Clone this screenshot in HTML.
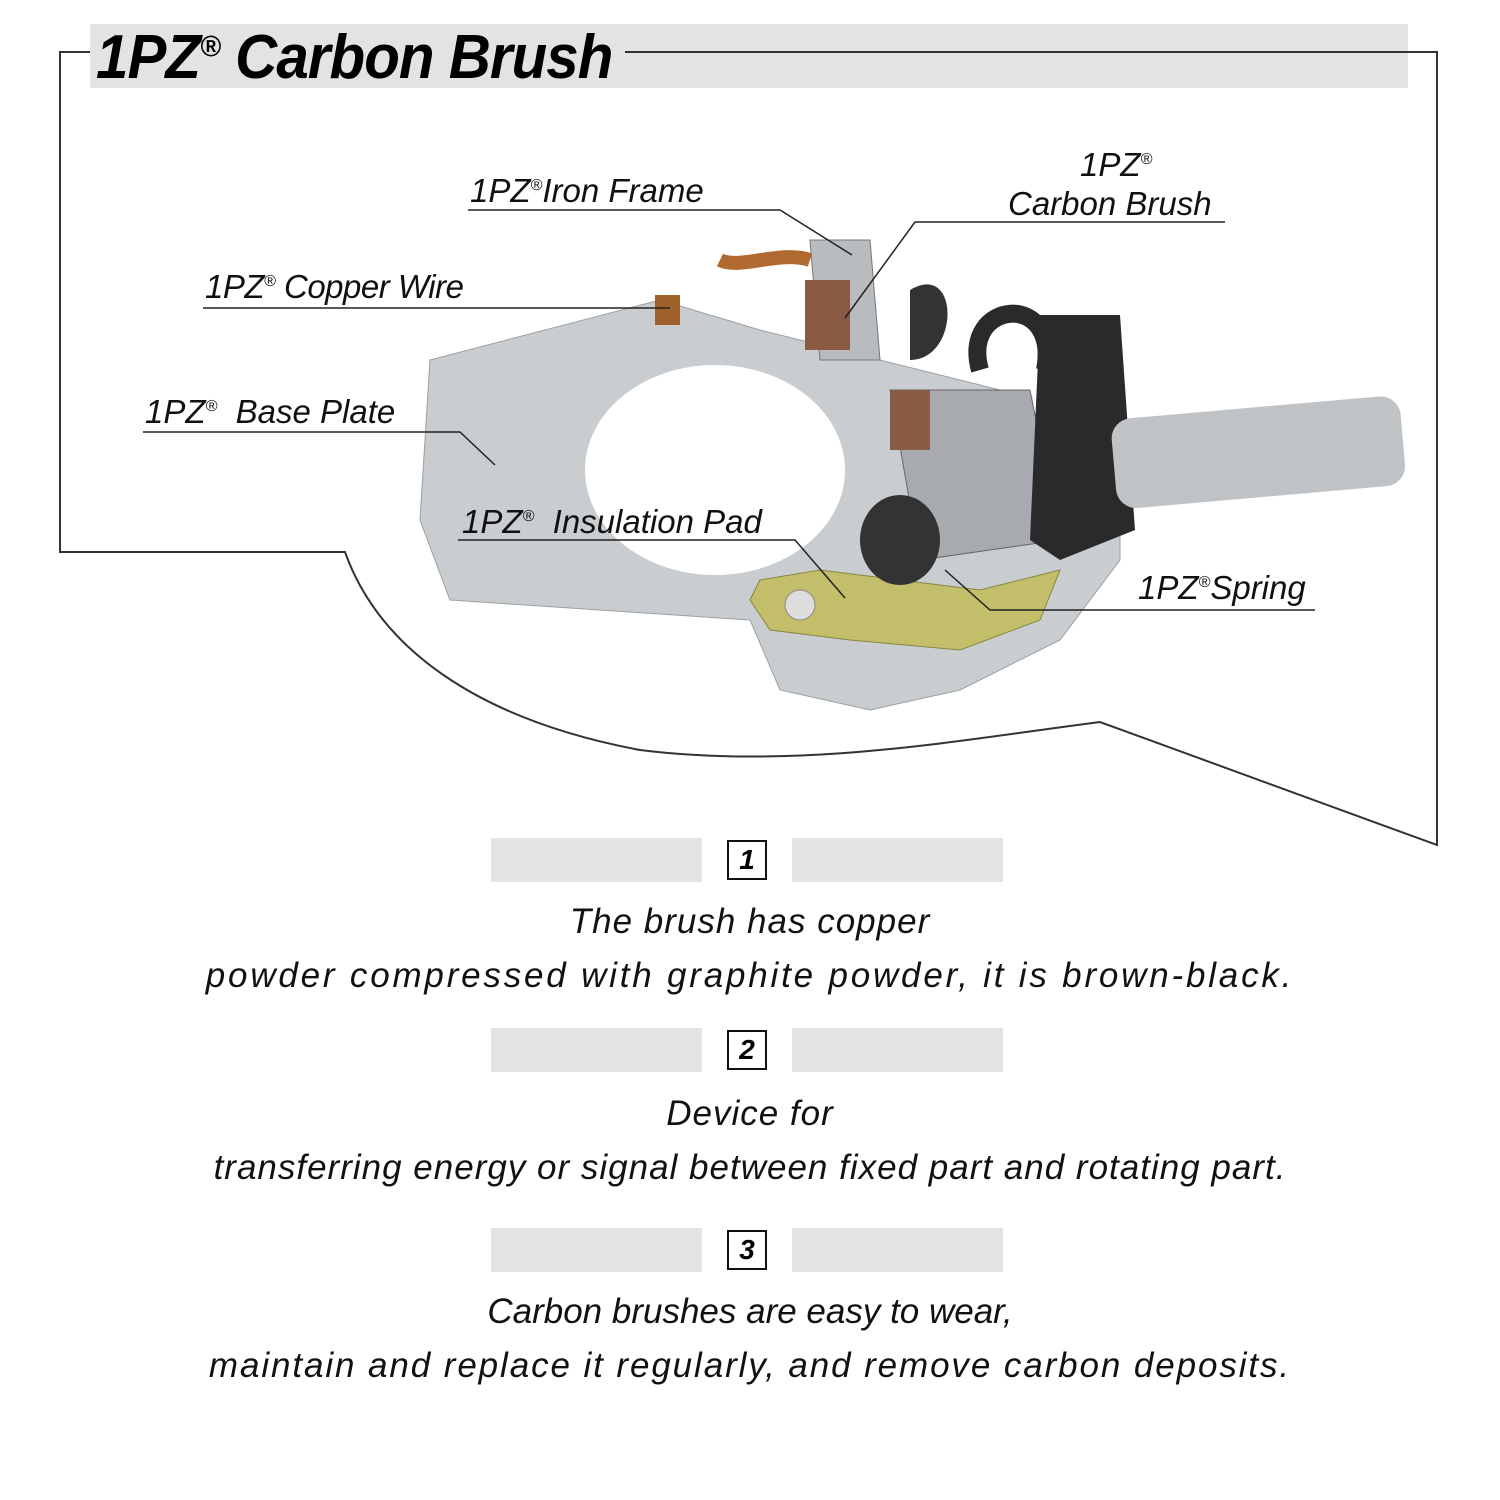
<!DOCTYPE html>
<html><head><meta charset="utf-8"><style>
body{margin:0;width:1500px;height:1500px;background:#fff;overflow:hidden;position:relative;font-family:"Liberation Sans",sans-serif}
.t{position:absolute;font-style:italic;color:#111;white-space:nowrap}
.bar{position:absolute;background:#e3e3e3;height:44px;width:211px}
.num{position:absolute;width:40px;height:40px;border:2px solid #111;box-sizing:border-box;font:italic bold 28px "Liberation Sans",sans-serif;text-align:center;line-height:36px;left:727px}
.desc{position:absolute;left:0;width:1500px;text-align:center;font-style:italic;font-size:35px;color:#111;letter-spacing:1px}
</style></head><body>
<div style="position:absolute;left:90px;top:24px;width:1318px;height:64px;background:#e3e3e3"></div>
<svg width="1500" height="1500" style="position:absolute;left:0;top:0">
<g fill="none" stroke="#333" stroke-width="2">
<path d="M90 52 H60 V552 H345 C380 650 480 720 640 750 C800 770 960 740 1100 722 L1437 845 V52 H625"/>
</g>
<path d="M430 360 L660 300 L760 330 L1000 390 L1120 470 L1120 560 L1060 640 L960 690 L870 710 L780 690 L750 620 L600 610 L450 600 L420 520 Z" fill="#c9cdd0" stroke="#9aa0a4"/>
<ellipse cx="715" cy="470" rx="130" ry="105" fill="#fff"/>
<path d="M750 600 L760 580 L820 570 L900 580 L980 590 L1060 570 L1040 620 L960 650 L850 640 L770 630 Z" fill="#c2be6a" stroke="#8a8540"/>
<circle cx="800" cy="605" r="15" fill="#ddd" stroke="#888"/>
<path d="M810 240 L870 240 L880 360 L820 360 Z" fill="#b9bcbf" stroke="#777"/>
<rect x="805" y="280" width="45" height="70" fill="#8b5a44"/>
<path d="M720 260 C740 270 780 250 810 260" stroke="#b06a30" stroke-width="14" fill="none"/>
<rect x="655" y="295" width="25" height="30" fill="#a0602a"/>
<path d="M890 390 L1030 390 L1060 540 L920 560 Z" fill="#a7abb0" stroke="#666"/>
<rect x="890" y="390" width="40" height="60" fill="#8b5a44"/>
<path d="M1040 315 L1120 315 L1135 530 L1060 560 L1030 540 Z" fill="#2a2a2a"/>
<path d="M980 370 C960 300 1060 290 1045 370" stroke="#2a2a2a" stroke-width="18" fill="none"/>
<rect x="1110" y="420" width="290" height="90" rx="20" fill="#c0c3c6" transform="rotate(-5 1110 420)"/>
<ellipse cx="900" cy="540" rx="40" ry="45" fill="#333"/>
<path d="M910 290 C960 260 960 360 910 360 Z" fill="#333"/>
<g stroke="#222" stroke-width="1.5" fill="none">
<path d="M468 210 H780 L852 255"/>
<path d="M1225 222 H915 L845 318"/>
<path d="M203 308 H670"/>
<path d="M143 432 H460 L495 465"/>
<path d="M458 540 H795 L845 598"/>
<path d="M1315 610 H990 L945 570"/>
</g>
</svg>
<div class="t" style="left:96px;top:22px;font-size:62px;font-weight:bold;color:#000;transform:scaleX(0.94);transform-origin:0 0;letter-spacing:-1px">1PZ<sup style="font-size:30px">®</sup> Carbon Brush</div>
<div class="t" style="left:470px;top:172px;font-size:33px">1PZ<sup style="font-size:16px">®</sup>Iron Frame</div>
<div class="t" style="left:1080px;top:146px;font-size:33px">1PZ<sup style="font-size:16px">®</sup></div>
<div class="t" style="left:1008px;top:185px;font-size:33px">Carbon Brush</div>
<div class="t" style="left:205px;top:268px;font-size:33px;letter-spacing:-0.5px">1PZ<sup style="font-size:16px">®</sup> Copper Wire</div>
<div class="t" style="left:145px;top:393px;font-size:33px">1PZ<sup style="font-size:16px">®</sup>&nbsp; Base Plate</div>
<div class="t" style="left:462px;top:503px;font-size:33px">1PZ<sup style="font-size:16px">®</sup>&nbsp; Insulation Pad</div>
<div class="t" style="left:1138px;top:569px;font-size:33px">1PZ<sup style="font-size:16px">®</sup>Spring</div>
<div class="bar" style="left:491px;top:838px"></div><div class="bar" style="left:792px;top:838px"></div><div class="num" style="top:840px">1</div>
<div class="desc" style="top:902px">The brush has copper</div>
<div class="desc" style="top:956px;letter-spacing:2.8px">powder compressed with graphite powder, it is brown-black.</div>
<div class="bar" style="left:491px;top:1028px"></div><div class="bar" style="left:792px;top:1028px"></div><div class="num" style="top:1030px">2</div>
<div class="desc" style="top:1094px">Device for</div>
<div class="desc" style="top:1148px">transferring energy or signal between fixed part and rotating part.</div>
<div class="bar" style="left:491px;top:1228px"></div><div class="bar" style="left:792px;top:1228px"></div><div class="num" style="top:1230px">3</div>
<div class="desc" style="top:1292px;letter-spacing:0">Carbon brushes are easy to wear,</div>
<div class="desc" style="top:1346px;letter-spacing:1.9px">maintain and replace it regularly, and remove carbon deposits.</div>
</body></html>
